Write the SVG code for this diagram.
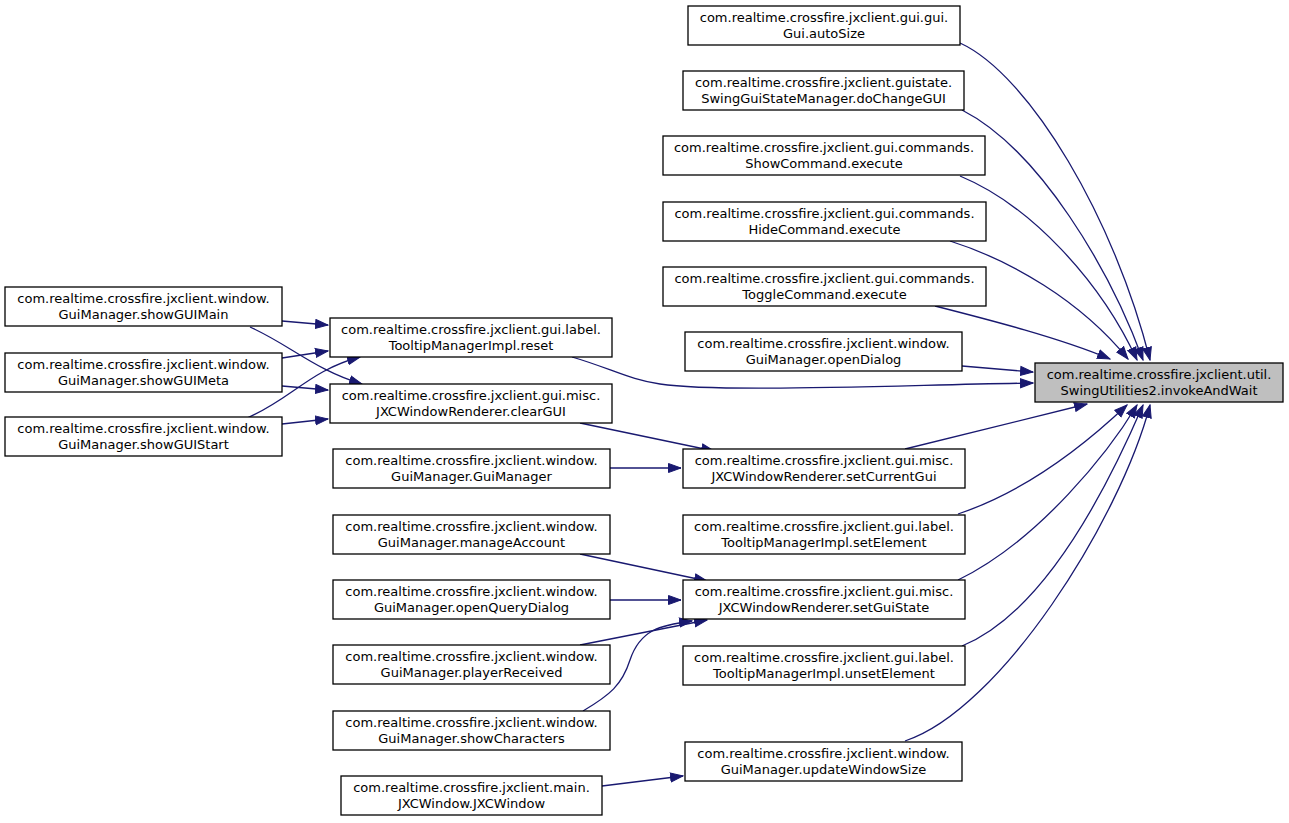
<svg xmlns="http://www.w3.org/2000/svg" width="1289" height="823" viewBox="0 0 1289 823">
<style>
rect.n{fill:#fff;stroke:#000;stroke-width:1.3}
rect.t{fill:#bfbfbf;stroke:#000;stroke-width:1.3}
text{font-family:"DejaVu Sans",sans-serif;font-size:13px;text-anchor:middle;fill:#000}
#edges path{fill:none;stroke:#191970;stroke-width:1.3;marker-end:url(#ah)}
</style>
<defs>
<marker id="ah" markerUnits="userSpaceOnUse" markerWidth="14" markerHeight="11" refX="13" refY="5" orient="auto" viewBox="0 0 14 10">
<path d="M0.5,0.5 L13,5 L0.5,9.5 z" fill="#191970" stroke="#191970"/>
</marker>
</defs>
<rect width="1289" height="823" fill="#fff"/>
<g id="edges">
<path d="M960,43 C1030,75 1115,220 1150,360"/>
<path d="M962,110 C1040,150 1110,270 1143,360"/>
<path d="M960,176 C1030,205 1100,280 1137,360"/>
<path d="M950,241 C1010,260 1080,300 1128,359"/>
<path d="M935,306 C990,320 1060,338 1110,359"/>
<path d="M962,366 L1033,372"/>
<path d="M572,357 C610,368 630,380 660,384 C720,393 900,385 1033,383"/>
<path d="M905,449 L1087,404"/>
<path d="M958,514 C1030,490 1090,440 1127,405"/>
<path d="M958,580 C1040,540 1110,450 1137,405"/>
<path d="M962,646 C1050,610 1115,470 1143,405"/>
<path d="M905,741 C1000,710 1120,520 1150,405"/>
<path d="M580,423 L714,451"/>
<path d="M610,468 L681,468"/>
<path d="M580,554 L707,581"/>
<path d="M610,600 L681,600"/>
<path d="M580,645 L707,620"/>
<path d="M583,711 C610,695 622,685 630,660 C640,630 660,625 692,621"/>
<path d="M602,786 L683,776"/>
<path d="M282,321 L328,325"/>
<path d="M250,327 C290,345 315,370 362,384"/>
<path d="M282,358 L328,351"/>
<path d="M282,386 L328,390"/>
<path d="M247,418 C290,400 310,370 360,357"/>
<path d="M282,424 L328,419"/>
</g>
<g id="n_target"><rect class="t" x="1035" y="363" width="248" height="39"/><text x="1159" y="379">com.realtime.crossfire.jxclient.util.</text><text x="1159" y="395">SwingUtilities2.invokeAndWait</text></g>
<g id="n_autoSize"><rect class="n" x="688" y="6" width="272" height="39"/><text x="824" y="22">com.realtime.crossfire.jxclient.gui.gui.</text><text x="824" y="38">Gui.autoSize</text></g>
<g id="n_doChangeGUI"><rect class="n" x="683" y="71" width="281" height="39"/><text x="823.5" y="87">com.realtime.crossfire.jxclient.guistate.</text><text x="823.5" y="103">SwingGuiStateManager.doChangeGUI</text></g>
<g id="n_show"><rect class="n" x="663" y="136" width="322" height="39"/><text x="824" y="152">com.realtime.crossfire.jxclient.gui.commands.</text><text x="824" y="168">ShowCommand.execute</text></g>
<g id="n_hide"><rect class="n" x="663" y="202" width="323" height="39"/><text x="824.5" y="218">com.realtime.crossfire.jxclient.gui.commands.</text><text x="824.5" y="234">HideCommand.execute</text></g>
<g id="n_toggle"><rect class="n" x="663" y="267" width="323" height="39"/><text x="824.5" y="283">com.realtime.crossfire.jxclient.gui.commands.</text><text x="824.5" y="299">ToggleCommand.execute</text></g>
<g id="n_openDialog"><rect class="n" x="685" y="332" width="277" height="39"/><text x="823.5" y="348">com.realtime.crossfire.jxclient.window.</text><text x="823.5" y="364">GuiManager.openDialog</text></g>
<g id="n_setCurrentGui"><rect class="n" x="683" y="449" width="282" height="39"/><text x="824" y="465">com.realtime.crossfire.jxclient.gui.misc.</text><text x="824" y="481">JXCWindowRenderer.setCurrentGui</text></g>
<g id="n_setElement"><rect class="n" x="683" y="515" width="282" height="39"/><text x="824" y="531">com.realtime.crossfire.jxclient.gui.label.</text><text x="824" y="547">TooltipManagerImpl.setElement</text></g>
<g id="n_setGuiState"><rect class="n" x="683" y="580" width="282" height="39"/><text x="824" y="596">com.realtime.crossfire.jxclient.gui.misc.</text><text x="824" y="612">JXCWindowRenderer.setGuiState</text></g>
<g id="n_unsetElement"><rect class="n" x="683" y="646" width="282" height="39"/><text x="824" y="662">com.realtime.crossfire.jxclient.gui.label.</text><text x="824" y="678">TooltipManagerImpl.unsetElement</text></g>
<g id="n_updateWindowSize"><rect class="n" x="685" y="742" width="277" height="39"/><text x="823.5" y="758">com.realtime.crossfire.jxclient.window.</text><text x="823.5" y="774">GuiManager.updateWindowSize</text></g>
<g id="n_reset"><rect class="n" x="330" y="318" width="282" height="39"/><text x="471" y="334">com.realtime.crossfire.jxclient.gui.label.</text><text x="471" y="350">TooltipManagerImpl.reset</text></g>
<g id="n_clearGUI"><rect class="n" x="330" y="384" width="282" height="39"/><text x="471" y="400">com.realtime.crossfire.jxclient.gui.misc.</text><text x="471" y="416">JXCWindowRenderer.clearGUI</text></g>
<g id="n_GuiManager"><rect class="n" x="333" y="449" width="277" height="39"/><text x="471.5" y="465">com.realtime.crossfire.jxclient.window.</text><text x="471.5" y="481">GuiManager.GuiManager</text></g>
<g id="n_manageAccount"><rect class="n" x="333" y="515" width="277" height="39"/><text x="471.5" y="531">com.realtime.crossfire.jxclient.window.</text><text x="471.5" y="547">GuiManager.manageAccount</text></g>
<g id="n_openQueryDialog"><rect class="n" x="333" y="580" width="277" height="39"/><text x="471.5" y="596">com.realtime.crossfire.jxclient.window.</text><text x="471.5" y="612">GuiManager.openQueryDialog</text></g>
<g id="n_playerReceived"><rect class="n" x="333" y="645" width="277" height="39"/><text x="471.5" y="661">com.realtime.crossfire.jxclient.window.</text><text x="471.5" y="677">GuiManager.playerReceived</text></g>
<g id="n_showCharacters"><rect class="n" x="333" y="711" width="277" height="39"/><text x="471.5" y="727">com.realtime.crossfire.jxclient.window.</text><text x="471.5" y="743">GuiManager.showCharacters</text></g>
<g id="n_JXCWindow"><rect class="n" x="341" y="776" width="261" height="39"/><text x="471.5" y="792">com.realtime.crossfire.jxclient.main.</text><text x="471.5" y="808">JXCWindow.JXCWindow</text></g>
<g id="n_showGUIMain"><rect class="n" x="5" y="287" width="277" height="39"/><text x="143.5" y="303">com.realtime.crossfire.jxclient.window.</text><text x="143.5" y="319">GuiManager.showGUIMain</text></g>
<g id="n_showGUIMeta"><rect class="n" x="5" y="353" width="277" height="39"/><text x="143.5" y="369">com.realtime.crossfire.jxclient.window.</text><text x="143.5" y="385">GuiManager.showGUIMeta</text></g>
<g id="n_showGUIStart"><rect class="n" x="5" y="417" width="277" height="39"/><text x="143.5" y="433">com.realtime.crossfire.jxclient.window.</text><text x="143.5" y="449">GuiManager.showGUIStart</text></g>
</svg>
